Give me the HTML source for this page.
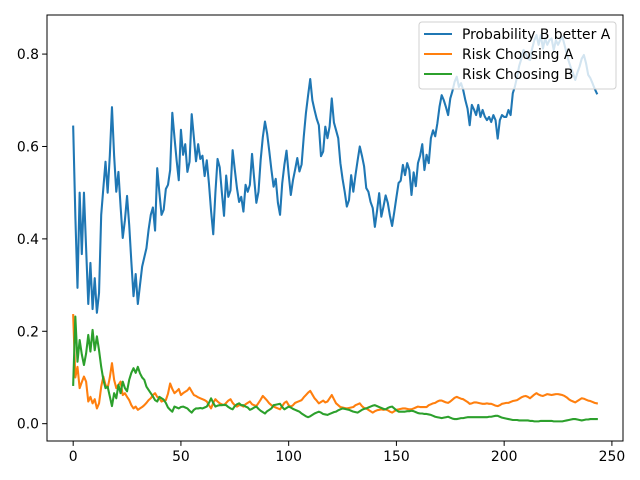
<!DOCTYPE html>
<html><head><meta charset="utf-8"><style>html,body{margin:0;padding:0;background:#fff;}svg{display:block;font-family:"DejaVu Sans","Liberation Sans",sans-serif;}</style></head>
<body>
<svg id="chart" width="640" height="480" viewBox="0 0 640 480" xmlns="http://www.w3.org/2000/svg">
<rect x="0" y="0" width="640" height="480" fill="#fff"/>
<g id="plot"></g>
</svg>
<script>
const probBetter = [.643,.45,.294,.50,.367,.50,.38,.259,.348,.248,.315,.240,.283,.452,.51,.567,.50,.58,.685,.58,.502,.545,.47,.402,.44,.493,.43,.35,.276,.324,.259,.30,.340,.36,.380,.42,.452,.468,.418,.553,.50,.452,.463,.508,.517,.549,.673,.62,.57,.527,.636,.582,.605,.545,.567,.670,.62,.568,.605,.573,.58,.536,.570,.52,.46,.41,.50,.573,.555,.50,.45,.537,.491,.505,.592,.55,.51,.48,.491,.459,.517,.502,.517,.584,.53,.478,.502,.571,.62,.654,.628,.59,.549,.513,.53,.478,.452,.52,.56,.591,.54,.495,.527,.55,.575,.546,.561,.621,.672,.71,.746,.70,.679,.66,.646,.579,.589,.643,.618,.643,.704,.652,.635,.618,.564,.53,.502,.470,.484,.538,.502,.538,.57,.600,.58,.557,.510,.502,.48,.467,.426,.46,.499,.448,.47,.494,.478,.45,.428,.458,.49,.521,.526,.56,.538,.564,.549,.495,.544,.514,.564,.58,.605,.549,.582,.564,.618,.635,.622,.65,.686,.711,.70,.685,.668,.704,.72,.74,.751,.729,.737,.722,.70,.682,.646,.69,.68,.668,.69,.664,.679,.665,.657,.664,.653,.668,.657,.617,.657,.668,.664,.664,.679,.668,.715,.73,.751,.775,.79,.809,.801,.79,.787,.812,.83,.841,.82,.841,.812,.834,.82,.83,.834,.809,.83,.82,.83,.838,.82,.801,.784,.77,.758,.744,.76,.773,.79,.798,.78,.755,.748,.737,.725,.715];
const riskA = [.235,.10,.123,.077,.09,.102,.091,.048,.058,.044,.053,.033,.044,.080,.102,.084,.077,.10,.131,.095,.077,.084,.091,.062,.066,.058,.051,.040,.033,.037,.030,.033,.036,.040,.045,.051,.055,.062,.066,.058,.055,.048,.050,.051,.065,.087,.075,.066,.070,.075,.062,.066,.069,.072,.078,.070,.062,.060,.057,.055,.053,.051,.048,.040,.033,.045,.053,.048,.044,.042,.040,.045,.050,.053,.045,.040,.037,.040,.040,.037,.042,.045,.048,.042,.040,.038,.045,.052,.060,.055,.050,.044,.040,.037,.035,.033,.031,.038,.045,.048,.040,.037,.040,.045,.047,.049,.051,.057,.062,.067,.071,.063,.055,.050,.044,.047,.050,.046,.048,.055,.062,.053,.044,.040,.036,.035,.034,.033,.034,.035,.036,.040,.042,.044,.038,.034,.033,.030,.027,.024,.027,.029,.030,.031,.030,.031,.029,.026,.024,.027,.030,.031,.032,.033,.033,.032,.031,.031,.033,.035,.037,.036,.036,.036,.036,.040,.042,.044,.045,.048,.050,.050,.048,.046,.045,.048,.052,.056,.058,.056,.054,.053,.050,.047,.043,.044,.046,.046,.045,.044,.043,.043,.044,.043,.043,.041,.039,.038,.040,.043,.044,.045,.045,.047,.049,.050,.051,.054,.057,.059,.060,.058,.055,.059,.063,.066,.063,.061,.060,.062,.064,.063,.062,.063,.064,.064,.063,.062,.060,.057,.053,.050,.048,.046,.049,.052,.055,.054,.052,.050,.049,.047,.045,.044];
const riskB = [.084,.232,.134,.181,.15,.127,.152,.192,.156,.203,.159,.189,.159,.123,.095,.077,.080,.059,.038,.066,.055,.084,.066,.091,.077,.070,.095,.11,.120,.11,.123,.109,.10,.095,.080,.073,.066,.059,.051,.048,.058,.055,.052,.045,.035,.030,.026,.037,.035,.033,.036,.037,.035,.033,.028,.024,.030,.033,.033,.034,.033,.035,.037,.045,.055,.045,.037,.039,.040,.040,.041,.040,.036,.033,.031,.038,.042,.044,.040,.040,.037,.035,.030,.032,.035,.037,.032,.028,.025,.022,.027,.030,.033,.040,.041,.042,.043,.036,.031,.034,.037,.035,.032,.030,.028,.026,.022,.019,.016,.014,.016,.019,.022,.024,.026,.024,.021,.020,.019,.021,.023,.025,.026,.029,.031,.033,.032,.031,.030,.028,.026,.025,.024,.027,.030,.032,.033,.035,.037,.039,.040,.038,.036,.034,.032,.031,.034,.036,.037,.033,.029,.026,.026,.026,.026,.027,.027,.028,.027,.025,.023,.022,.022,.021,.021,.020,.019,.017,.015,.014,.013,.012,.013,.014,.015,.013,.011,.010,.010,.011,.012,.012,.013,.014,.014,.014,.014,.014,.014,.014,.014,.014,.014,.015,.015,.016,.017,.017,.015,.013,.012,.011,.010,.009,.008,.008,.008,.007,.007,.007,.007,.007,.006,.006,.005,.005,.005,.006,.006,.006,.006,.006,.006,.005,.005,.005,.005,.005,.006,.007,.008,.009,.010,.010,.009,.008,.007,.008,.009,.009,.010,.010,.010,.010];
const xTicks = [0,50,100,150,200,250];
const yTicks = [0.0,0.2,0.4,0.6,0.8];
const yTickLabels = ["0.0","0.2","0.4","0.6","0.8"];
const seriesNames = ["Probability B better A","Risk Choosing A","Risk Choosing B"];
const seriesColors = ["#1f77b4","#ff7f0e","#2ca02c"];

const NS = "http://www.w3.org/2000/svg";
const L=47,R=623,T=15,B=441;
const xMin=-12.15,xMax=255.15,yMin=-0.0375,yMax=0.8846;
function sx(v){return L+(v-xMin)/(xMax-xMin)*(R-L);}
function sy(v){return B-(v-yMin)/(yMax-yMin)*(B-T);}
const plot=document.getElementById('plot');
function mk(tag,attrs,parent){const e=document.createElementNS(NS,tag);for(const k in attrs)e.setAttribute(k,attrs[k]);(parent||plot).appendChild(e);return e;}

const allSeries=[probBetter,riskA,riskB];
allSeries.forEach((arr,si)=>{
  const pts=arr.map((v,i)=>sx(i).toFixed(2)+","+sy(v).toFixed(2)).join(" ");
  const pl=mk('polyline',{points:pts,fill:'none',stroke:seriesColors[si],'stroke-width':2.08,'stroke-linejoin':'round','stroke-linecap':'square'});
  
  
});

const frame=mk('rect',{x:L,y:T,width:R-L,height:B-T,fill:'none',stroke:'#000','stroke-width':1});



xTicks.forEach(t=>{
  const x=sx(t);
  const tk=mk('line',{x1:x,y1:B,x2:x,y2:B+4.9,stroke:'#000','stroke-width':1});
  
  
  const tx=mk('text',{x:x,y:B+20,'font-size':'13.9px','text-anchor':'middle',fill:'#000'});
  tx.textContent=String(t);
  
  
});
yTicks.forEach((t,k)=>{
  const y=sy(t);
  const tk=mk('line',{x1:L-4.9,y1:y,x2:L,y2:y,stroke:'#000','stroke-width':1});
  
  
  const tx=mk('text',{x:L-8,y:y+5,'font-size':'13.9px','text-anchor':'end',fill:'#000'});
  tx.textContent=yTickLabels[k];
  
  
});

const lg=mk('g',{});


const box=mk('rect',{x:419,y:22,width:197,height:67,rx:3,fill:'rgba(255,255,255,0.8)',stroke:'#d0d0d0','stroke-width':1},lg);


seriesNames.forEach((n,k)=>{
  const y=34+k*20;
  const ln=mk('line',{x1:424,y1:y,x2:452,y2:y,stroke:seriesColors[k],'stroke-width':2.08},lg);
  
  
  const tx=mk('text',{x:462,y:y+5,'font-size':'13.9px',fill:'#000'},lg);
  tx.textContent=n;
  
  
});
</script>
</body></html>
